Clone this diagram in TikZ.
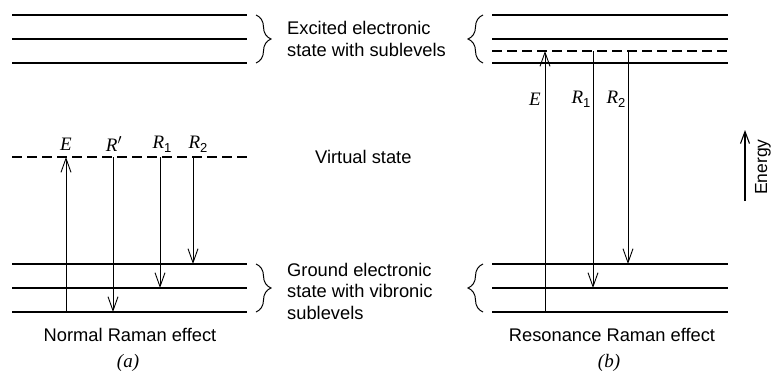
\documentclass[tikz,border=0pt]{standalone}
\usepackage{fontspec}
\setmainfont{Liberation Sans}
\newfontfamily\labfont{Liberation Serif}
\usetikzlibrary{arrows.meta,decorations.pathreplacing}
\newcommand\mysub[1]{\raisebox{-4pt}{\normalfont\fontsize{13}{13}\selectfont #1}}
\begin{document}
\begin{tikzpicture}[x=1pt,y=-1pt,
  level/.style={line width=2.5pt},
  virt/.style={line width=2.2pt, dash pattern=on 10pt off 5pt},
  trans/.style={line width=0.9pt,-{Straight Barb[length=14pt,width=10pt]}},
  brc/.style={decorate,decoration={brace,amplitude=15pt},line width=1pt},
  txt/.style={font=\fontsize{18.3}{21.5}\selectfont, inner sep=0pt, align=left},
  lab/.style={font=\fontsize{19}{20}\selectfont\labfont\itshape, inner sep=0pt}]
\useasboundingbox (0,0) rectangle (772,375);

% ---------- panel (a) ----------
\foreach \y/\n in {15/ae1,39/ae2,63/ae3,264/ag1,288/ag2,312/ag3}{
  \coordinate (\n l) at (12,\y);
  \coordinate (\n r) at (247,\y);
  \draw[level] (\n l) -- (\n r);
}
\coordinate (avl) at (12,157);
\coordinate (avr) at (247,157);
\draw[virt] (avl) -- (avr);

\coordinate (aEs) at (66,312);  \coordinate (aEe) at (66,157);
\coordinate (aPs) at (113,157); \coordinate (aPe) at (113,312);
\coordinate (a1s) at (160,157); \coordinate (a1e) at (160,288);
\coordinate (a2s) at (193,157); \coordinate (a2e) at (193,264);
\draw[trans] (aEs) -- (aEe);
\draw[trans] (aPs) -- (aPe);
\draw[trans] (a1s) -- (a1e);
\draw[trans] (a2s) -- (a2e);

\node[lab] (laE) at (66,144) {E};
\node[lab] (laP) at (114,144) {R$^{\prime}$};
\node[lab] (la1) at (162,144) {R\mysub{1}};
\node[lab] (la2) at (198,144) {R\mysub{2}};

\coordinate (b1t) at (256,15);  \coordinate (b1b) at (256,63);
\coordinate (b2t) at (256,264); \coordinate (b2b) at (256,312);
\draw[brc] (b1t) -- (b1b);
\draw[brc] (b2t) -- (b2b);

\node[txt,anchor=west] (exc) at (287,39) {Excited electronic\\state with sublevels};
\node[txt,anchor=west] (vir) at (315,157) {Virtual state};
\node[txt,anchor=west] (gnd) at (287,291) {Ground electronic\\state with vibronic\\sublevels};

\node[txt] (capa) at (130,335) {Normal Raman effect};
\node[lab] (la) at (128,363) {(a)};

% ---------- panel (b) ----------
\foreach \y/\n in {15/be1,39/be2,63/be3,264/bg1,288/bg2,312/bg3}{
  \coordinate (\n l) at (492,\y);
  \coordinate (\n r) at (728,\y);
  \draw[level] (\n l) -- (\n r);
}
\coordinate (bvl) at (492,51);
\coordinate (bvr) at (728,51);
\draw[virt] (bvl) -- (bvr);

\coordinate (bEs) at (545,312); \coordinate (bEe) at (545,51);
\coordinate (b1s) at (593,51);  \coordinate (b1e) at (593,288);
\coordinate (b2s) at (628,51);  \coordinate (b2e) at (628,264);
\draw[trans] (bEs) -- (bEe);
\draw[trans] (b1s) -- (b1e);
\draw[trans] (b2s) -- (b2e);

\node[lab] (lbE) at (535,99) {E};
\node[lab] (lb1) at (581,99) {R\mysub{1}};
\node[lab] (lb2) at (616,99) {R\mysub{2}};

\coordinate (b3b) at (483,63);  \coordinate (b3t) at (483,15);
\coordinate (b4b) at (483,312); \coordinate (b4t) at (483,264);
\draw[brc] (b3b) -- (b3t);
\draw[brc] (b4b) -- (b4t);

\node[txt] (capb) at (612,335) {Resonance Raman effect};
\node[lab] (lb) at (609,363) {(b)};

% ---------- energy axis ----------
\coordinate (en1) at (745,201);
\coordinate (en2) at (745,130);
\draw[line width=1.8pt,-{Straight Barb[length=12pt,width=9pt,line width=1.1pt]}] (en1) -- (en2);
\node[txt,rotate=90,font=\fontsize{17.5}{17.5}\selectfont] (ener) at (763,167) {Energy};
\end{tikzpicture}
\end{document}
